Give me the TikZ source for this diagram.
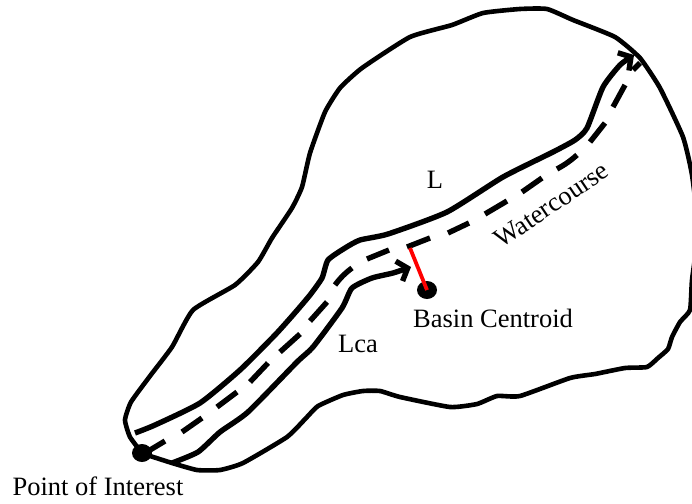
\documentclass[tikz,border=0pt]{standalone}
\usepackage{fontspec}
\setmainfont{Liberation Serif}
\usetikzlibrary{arrows.meta,shapes.geometric}
\tikzset{
  outline/.style={line width=4.6pt,line join=round,line cap=round},
  course/.style={line width=5.4pt,line join=round},
  flow/.style={course,-{Straight Barb[length=9pt,width=21pt,line width=5.4pt]}},
  dashpiece/.style={line width=5.4pt},
  lab/.style={font=\fontsize{26.5}{30}\selectfont,inner sep=0pt,text=black,anchor=base},
  blob/.style={fill=black,ellipse,minimum width=20pt,minimum height=18pt,inner sep=0pt},
  link/.style={draw=red,line width=3.8pt}
}
\begin{document}
\begin{tikzpicture}[x=1pt,y=-1pt]
\useasboundingbox (0,0) rectangle (692,503);
\clip (0,0) rectangle (692,503);
\fill[white] (0,0) rectangle (692,503);
% basin outline
\draw[outline] plot[smooth,tension=0.3] coordinates {
 (142,453) (130,437) (125,420) (131,402) (150,376) (172,347) (193,310) (235,285) (258,262) (272,238)
 (292,208) (302,187) (310,153) (325,112) (340,88) (362,68) (410,37) (452,25) (483,13) (520,9) (547,9)
 (573,20) (615,37) (640,58) (660,88) (683,137) (692,175) (698,230) (692,280) (690,310) (680,322) (672,337) (668,349)
 (658,358) (647,367) (625,368) (595,374) (570,378) (520,396) (497,396) (477,404) (450,407) (400,397)
 (380,391) (363,391) (343,395) (318,406) (307,417) (287,437) (243,463) (220,470) (197,470) (172,463) (147,455)};
% L watercourse
\draw[flow] plot[smooth,tension=0.35] coordinates {
 (135,433) (155,425) (200,403) (240,370) (275,335) (293,315) (310,295) (322,278) (328,260) (345,248)
 (360,240) (388,234) (447,212) (503,177) (553,152) (575,140) (587,128) (603,87) (620,65) (634,55)};
% Lca watercourse
\draw[flow] plot[smooth,tension=0.35] coordinates {
 (172,463) (198,452) (220,432) (248,412) (297,362) (313,347) (342,308) (352,288) (372,278) (393,273) (411,267)};
% dashed centre line
\draw[dashpiece] (150,450)--(165,441) (182,432)--(202,418) (217,407)--(237,392) (250,382)--(268,363)
 (280,352)--(300,334) (310,321)--(327,302) (335,285) to[bend left=8] (352,268) (367,259)--(389,250)
 (407,247)--(430,238) (448,233)--(469,223) (485,214)--(507,201) (522,192)--(542,178)
 (557,169) to[bend right=6] (577,155) (590,142)--(605,123) (613,107)--(625,85) (633,70)--(640,63);
% points
\node[blob] (poi) at (142,453) {};
\node[blob] (centroid) at (427,290) {};
\coordinate (foot) at (410,248);
\draw[link] (foot) -- (centroid.center);
% labels
\node[lab] (t1) at (98,495) {Point of Interest};
\node[lab] (t2) at (493,327) {Basin Centroid};
\node[lab] (t3) at (358,352) {Lca};
\node[lab] (t4) at (435,188) {L};
\node[lab,rotate=34] (t5) at (556,212) {Watercourse};
\end{tikzpicture}
\end{document}
